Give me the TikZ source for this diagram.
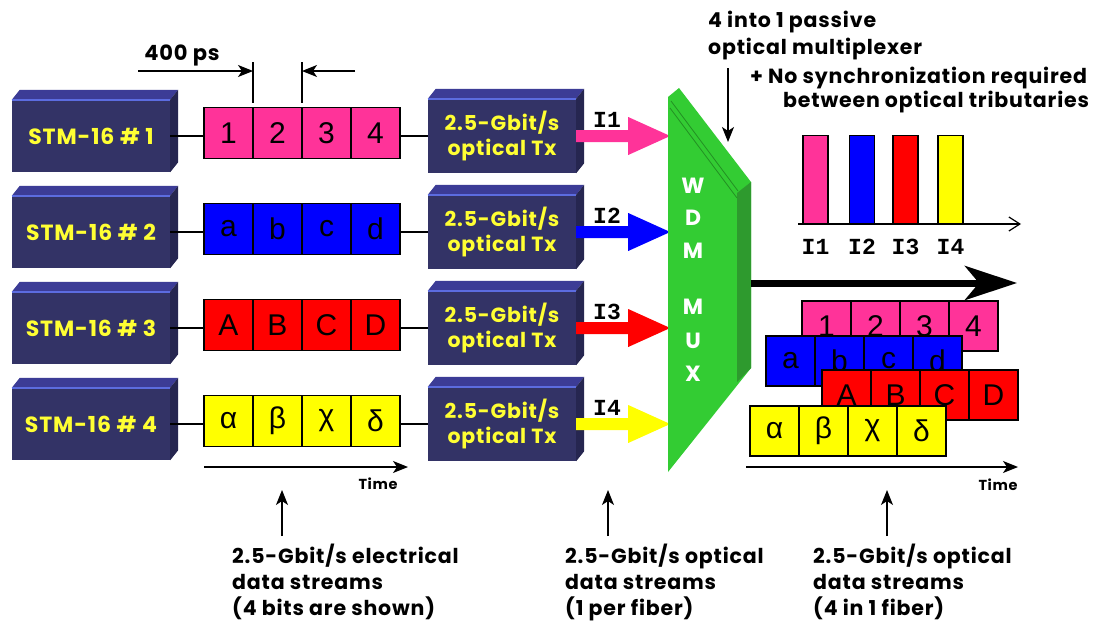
\documentclass[tikz,border=0pt]{standalone}
\usepackage{fontspec}
\setmainfont{Liberation Sans}
\newfontfamily\pop{Poppins}[LetterSpace=4]
\newfontfamily\mono{Liberation Mono}
\usetikzlibrary{arrows.meta}
\definecolor{navy}{HTML}{333366}
\definecolor{navytop}{HTML}{3C3C96}
\definecolor{navyside}{HTML}{262650}
\definecolor{hilite}{HTML}{5C6CE0}
\definecolor{stmyel}{HTML}{FFFF33}
\definecolor{pinkc}{HTML}{FF3399}
\definecolor{bluec}{HTML}{0000FF}
\definecolor{redc}{HTML}{FF0000}
\definecolor{yelc}{HTML}{FFFF00}
\definecolor{muxg}{HTML}{33CC33}
\definecolor{muxside}{HTML}{2E9A2E}
\definecolor{muxline}{HTML}{239023}
\newcommand\cubefaces[1]{%
  \fill[navytop] (#1.north west) -- ([shift={(8,-10)}]#1.north west) -- ([shift={(8,-10)}]#1.north east) -- (#1.north east) -- cycle;
  \fill[navyside] (#1.north east) -- ([shift={(8,-10)}]#1.north east) -- ([shift={(8,-10)}]#1.south east) -- (#1.south east) -- cycle;
  \draw[hilite, line width=1.5pt] (#1.north west) -- (#1.north east);
}
\begin{document}
\begin{tikzpicture}[x=1pt,y=-1pt,
  stm/.style={fill=navy, minimum width=158pt, minimum height=72pt, inner sep=0pt, text=stmyel, font=\pop\bfseries\fontsize{22}{22}\selectfont},
  txbox/.style={fill=navy, minimum width=148pt, minimum height=74pt, inner sep=0pt, text=stmyel, align=center, font=\pop\bfseries\fontsize{20.5}{25}\selectfont},
  cell/.style={draw=black, line width=1.5pt, minimum width=49pt, minimum height=51pt, inner sep=0pt, font=\fontsize{30}{30}\selectfont},
  bar/.style={draw=black, line width=1.2pt, minimum width=25pt, minimum height=88pt, inner sep=0pt, anchor=south},
  lbl/.style={font=\pop\bfseries\fontsize{20.5}{27}\selectfont, align=left, inner sep=0pt},
  blbl/.style={font=\pop\bfseries\fontsize{20.5}{26}\selectfont, align=left, inner sep=0pt},
  tlab/.style={font=\mono\bfseries\fontsize{23}{23}\selectfont, inner sep=0pt},
  timel/.style={font=\pop\bfseries\fontsize{14.5}{14.5}\selectfont, inner sep=0pt},
  muxl/.style={font=\pop\bfseries\fontsize{22}{22}\selectfont, text=white, inner sep=0pt},
  thinl/.style={line width=1.2pt},
  tip/.style={-{Stealth[length=15pt,width=12pt,inset=4pt]}},
  ]
\useasboundingbox (0,0) rectangle (1106,624);
\fill[white] (0,0) rectangle (1106,624);

% ---------- left rows ----------
\foreach \r/\L/\col/\ca/\cb/\cc/\cd in {1/136/pinkc/1/2/3/4, 2/232/bluec/a/b/c/d, 3/328/redc/A/B/C/D, 4/424/yelc/α/β/χ/δ}{
  \node[stm] (stm\r) at (91,\L) {STM-16 \# \r};
  \cubefaces{stm\r}
  \node[cell, fill=\col] (c\r-1) at (228.5,\L-3) {\ca};
  \node[cell, fill=\col] (c\r-2) at (277.5,\L-3) {\cb};
  \node[cell, fill=\col] (c\r-3) at (326.5,\L-3) {\cc};
  \node[cell, fill=\col] (c\r-4) at (375.5,\L-3) {\cd};
  \node[txbox] (tx\r) at (502,\L) {2.5-Gbit/s\\optical Tx};
  \cubefaces{tx\r}
  \draw[thinl] (stm\r.east) -- (stm\r.east -| c\r-1.west);
  \draw[thinl] (tx\r.west -| c\r-4.east) -- (tx\r.west);
  \fill[\col] ([shift={(0,-6)}]tx\r.east) -- ++(52,0) -- ++(0,-13) -- ++(42,19) coordinate (in\r) -- ++(-42,19) -- ++(0,-13) -- ([shift={(0,6)}]tx\r.east) -- cycle;
  \node[tlab] (I\r) at (607,\L-16) {I\r};
}

% ---------- 400 ps ----------
\node[font=\pop\bfseries\fontsize{21}{21}\selectfont, inner sep=0pt] (ps) at (182,55) {400 ps};
\coordinate (t1top) at (253,62);
\coordinate (t2top) at (302,62);
\draw[thinl] (t1top) -- ([shift={(0,-4)}]t1top |- c1-1.north);
\draw[thinl] (t2top) -- ([shift={(0,-4)}]t2top |- c1-1.north);
\coordinate (pa) at (138,71);
\coordinate (pb) at (355,71);
\draw[thinl, tip] (pa) -- (pa -| t1top);
\draw[thinl, tip] (pb) -- (pb -| t2top);

% ---------- left time axis ----------
\coordinate (lt0) at (204,467);
\coordinate (lt1) at (408,467);
\draw[thinl, tip] (lt0) -- (lt1);
\node[timel] (ltime) at (378,484) {Time};

% ---------- WDM MUX ----------
\fill[muxg] (668,97) -- (679,88) -- (751,182) -- (751,368) -- (668,472) -- cycle;
\fill[muxside] (737,193) -- (751,182) -- (751,368) -- (737,382) -- cycle;
\draw[muxline, line width=0.8pt] (671,101) -- (738,191);
\draw[muxline, line width=0.8pt] (670,108) -- (737,198);
\foreach \t/\yy/\n in {W/186/w, D/218/d, M/251/m, M/307/m2, U/341/u, X/374/x}{
  \node[muxl] (mux\n) at (693,\yy) {\t};
}
\coordinate (muxout) at (751,283);
\coordinate (fibre) at (1017,283);
\draw[line width=7pt, -{Stealth[length=52pt,width=34pt,inset=14pt]}] (muxout) -- (fibre);

% ---------- top annotation ----------
\node[lbl, anchor=west] (mtext) at (708,35.5) {4 into 1 passive\\optical multiplexer};
\coordinate (ma) at (728,68);
\coordinate (mb) at (728,142);
\draw[thinl, tip] (ma) -- (mb);
\node[lbl, anchor=west] (sync1) at (750,78) {+ No synchronization required};
\node[lbl, anchor=west] (sync2) at (783,102) {between optical tributaries};

% ---------- bar chart ----------
\node[bar, fill=pinkc] (bar1) at (815.5,224) {};
\node[bar, fill=bluec] (bar2) at (862,224) {};
\node[bar, fill=redc] (bar3) at (905.5,224) {};
\node[bar, fill=yelc] (bar4) at (950.5,224) {};
\coordinate (ax0) at (798,224);
\coordinate (ax1) at (1021,224);
\draw[thinl, -{Straight Barb[length=11pt,width=14pt]}] (ax0) -- (ax1);
\node[tlab] (bi1) at (815.5,247) {I1};
\node[tlab] (bi2) at (862,247) {I2};
\node[tlab] (bi3) at (905.5,247) {I3};
\node[tlab] (bi4) at (950.5,247) {I4};

% ---------- multiplexed stream ----------
\foreach \row/\x/\y/\col/\ca/\cb/\cc/\cd in {p/802/326/pinkc/1/2/3/4, b/766/361/bluec/a/b/c/d, r/822/395/redc/A/B/C/D, y/750/431/yelc/α/β/χ/δ}{
  \node[cell, fill=\col, minimum height=50pt] (m\row1) at (\x+24.5,\y) {\ca};
  \node[cell, fill=\col, minimum height=50pt] (m\row2) at (\x+73.5,\y) {\cb};
  \node[cell, fill=\col, minimum height=50pt] (m\row3) at (\x+122.5,\y) {\cc};
  \node[cell, fill=\col, minimum height=50pt] (m\row4) at (\x+171.5,\y) {\cd};
}
\coordinate (rt0) at (746,467);
\coordinate (rt1) at (1018,467);
\draw[thinl, tip] (rt0) -- (rt1);
\node[timel] (rtime) at (998,485) {Time};

% ---------- bottom annotations ----------
\node[blbl, anchor=west] (n1) at (232,582) {2.5-Gbit/s electrical\\data streams\\(4 bits are shown)};
\node[blbl, anchor=west] (n2) at (565,582) {2.5-Gbit/s optical\\data streams\\(1 per fiber)};
\node[blbl, anchor=west] (n3) at (813,582) {2.5-Gbit/s optical\\data streams\\(4 in 1 fiber)};
\coordinate (u1a) at (282,536); \coordinate (u1b) at (282,490);
\coordinate (u2a) at (608,536); \coordinate (u2b) at (608,490);
\coordinate (u3a) at (887,536); \coordinate (u3b) at (887,490);
\draw[thinl, tip] (u1a) -- (u1b);
\draw[thinl, tip] (u2a) -- (u2b);
\draw[thinl, tip] (u3a) -- (u3b);
\end{tikzpicture}
\end{document}
